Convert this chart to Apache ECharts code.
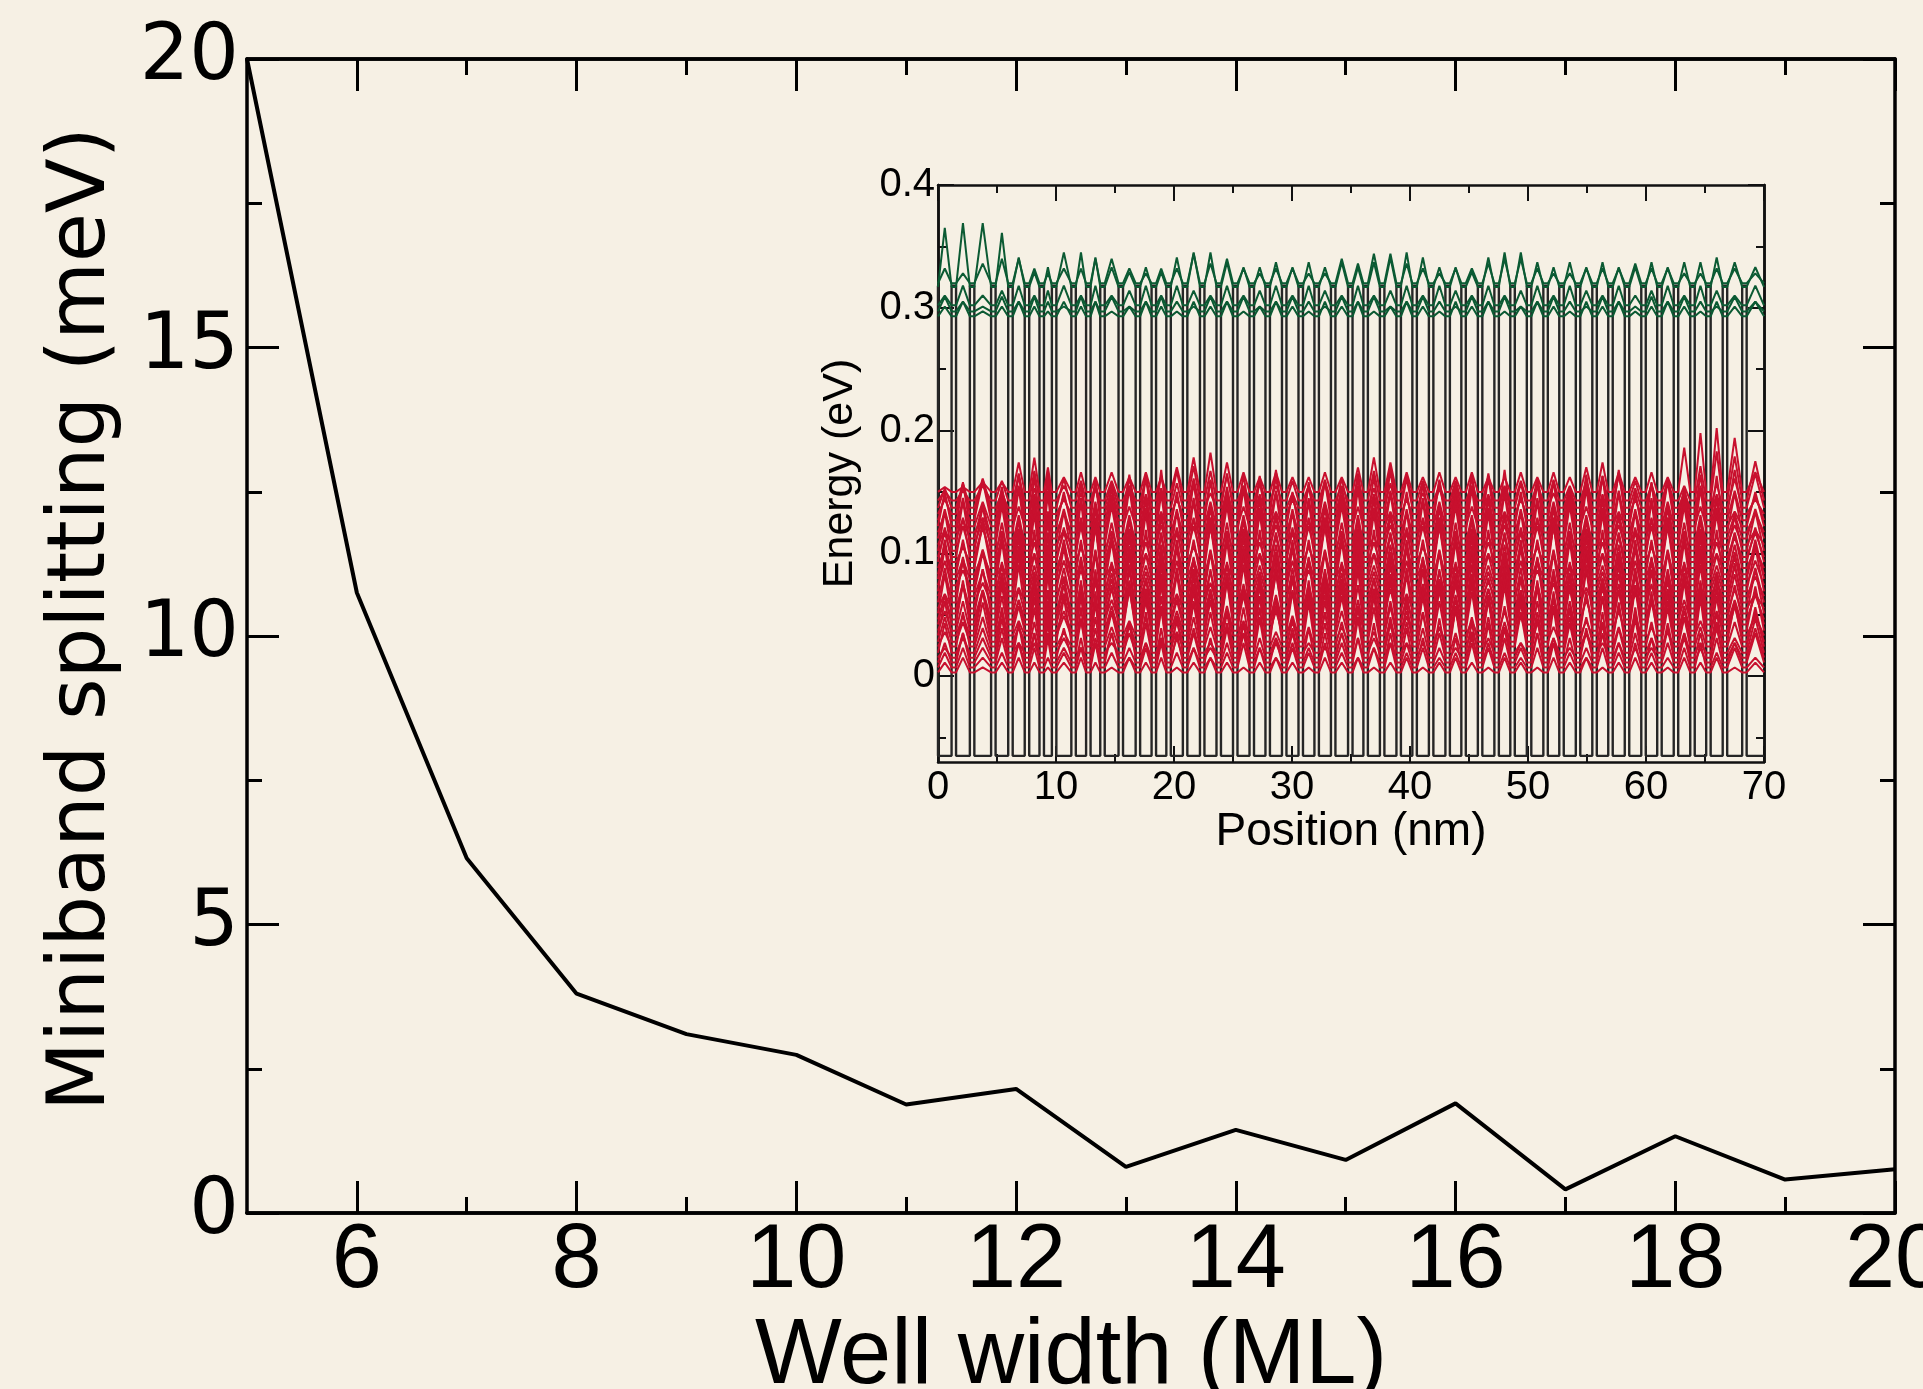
<!DOCTYPE html>
<html>
<head>
<meta charset="utf-8">
<title>Miniband splitting vs well width</title>
<script src="https://cdn.jsdelivr.net/npm/echarts@6/dist/echarts.min.js"></script>
<style>
  html, body { margin: 0; padding: 0; background: #f6f0e4; }
  #chart { width: 1923px; height: 1389px; }
</style>
</head>
<body>
<div id="chart"></div>
<script>
// ---- main curve ----
const wellWidths = [5, 6, 7, 8, 9, 10, 11, 12, 13, 14, 15, 16, 17, 18, 19, 20];
const splitting = [20, 10.75, 6.15, 3.8, 3.1, 2.74, 1.88, 2.15, 0.8, 1.44, 0.92, 1.9, 0.41, 1.33, 0.58, 0.76];
const widthMajor = [6, 8, 10, 12, 14, 16, 18, 20];
const widthMinor = [7, 9, 11, 13, 15, 17, 19];

// ---- inset: superlattice potential and states ----
const positionMax = 70;
const barrierLeft = [1.15, 2.70, 4.50, 5.95, 7.35, 8.60, 9.65, 11.30, 12.55, 13.75,
    15.30, 16.75, 18.10, 19.35, 20.75, 22.20, 23.60, 25.00, 26.40, 27.75,
    29.15, 30.55, 31.90, 33.30, 34.75, 36.05, 37.45, 38.85, 40.20, 41.60,
    43.00, 44.35, 45.75, 47.15, 48.50, 49.90, 51.30, 52.65, 54.05, 55.45,
    56.80, 58.20, 59.60, 60.95, 62.35, 63.75, 65.10, 66.50, 68.15];
const barrierWidth = 0.38;
const wellBottom = -0.065;
const barrierTop = 0.318;

// bump height in each well, one hex digit per well, in units of bumpUnit (eV)
const bumpUnit = 0.004;
const redLevels = [0.003, 0.007, 0.011, 0.015, 0.019, 0.024, 0.028, 0.033, 0.037, 0.042,
    0.046, 0.051, 0.055, 0.060, 0.065, 0.069, 0.074, 0.079, 0.083, 0.088,
    0.093, 0.097, 0.102, 0.107, 0.112, 0.117, 0.122, 0.127, 0.132, 0.137,
    0.143, 0.150];
const redBumps = [
    '2312321232 1323123212 3213231231 2321321323 1232132312',
    '3423542345 3245342354 2435324534 2354324532 4353245342',
    '4635465354 6345635463 5436453645 3564536453 6435463546',
    '2546735624 5736452674 3562547363 5247635426 7352645736',
    '6357246375 2463752647 3526473625 7463527364 2573642537',
    '3768457386 4578364758 3647583657 4836475863 7485364758',
    '5486375948 6357486375 9486357486 3759486375 4863759486',
    '7495386497 5386479538 6497538649 7538647953 8649753864',
    '4687596478 5967486597 4869758647 9586479568 7496857469',
    '6978587695 8769587968 5796857968 7596879586 9785697857',
    '5769486759 4867594867 5948675946 7594867594 8675948675',
    '8697589768 5976895768 9758697589 7685976859 7689576859',
    '3586947358 6947358694 7358694735 8694735869 4735869473',
    '7946358794 6358794635 8794635879 4635879463 5879463587',
    '4857936485 7936485793 6485793648 5793648579 3648579364',
    '9685748968 5748968574 8968574896 8574896857 4896857489',
    '5379846537 9846537984 6537984653 7984653798 4653798465',
    '8463957846 3957846395 7846395784 6395784639 5784639578',
    '6748593674 8593674859 3674859367 4859367485 9367485936',
    '4596837459 6837459683 7459683745 9683745968 3745968374',
    '7385946738 5946738594 6738594673 8594673859 4673859467',
    '5867394586 7394586739 4586739458 6739458673 9458673945',
    '8594637859 4637859463 7859463785 9463785946 3785946378',
    '3958674395 8674395867 4395867439 5867439586 7439586743',
    '6479385647 9385647938 5647938564 7938564793 8564793856',
    '4736958473 6958473695 8473695847 3695847369 5847369584',
    '7958463795 8463795846 3795846379 5846379584 6379584637',
    '5384796538 4796538479 6538479653 8479653847 9653847965',
    '3675849367 5849367584 9367584936 7584936758 4936758493',
    '4563745634 5674563745 6345674563 4567456345 6745634567',
    '2234564343 4345676534 3434346754 3434343434 5543437a98',
    '1122675343 4343578643 4334357643 4343343435 643439cdb4'
];
const greenLevels = [0.293, 0.297, 0.302, 0.317, 0.320];
const greenBumps = [
    '2312321323 1232132312 3213231232 1323123213 2312321323',
    '3213232132 3123213231 2321323123 2132312321 3213232132',
    '2423423424 2342432423 4243242342 4324234243 2423424324',
    'cddb634776 4343677544 5454545676 4436775454 5445455654',
    '3245532335 5323364532 3322546643 2334553223 3343322332'
];
const energyMajor = [0, 0.1, 0.2, 0.3, 0.4];
const energyMinor = [-0.05, 0.05, 0.15, 0.25, 0.35];

const wells = [];
let wellStart = 0;
barrierLeft.forEach(b => {
    wells.push([wellStart, b]);
    wellStart = b + barrierWidth;
});
wells.push([wellStart, positionMax]);

const potential = [[0, barrierTop], [0, wellBottom]];
barrierLeft.forEach(b => {
    potential.push([b, wellBottom], [b, barrierTop], [b + barrierWidth, barrierTop], [b + barrierWidth, wellBottom]);
});
potential.push([positionMax, wellBottom]);

function stateCurve(level, bumps) {
    const amp = bumps.replace(/ /g, '');
    const pts = [];
    wells.forEach((w, k) => {
        const a = parseInt(amp[k] || '0', 16) * bumpUnit;
        pts.push([w[0], level], [(w[0] + w[1]) / 2, level + a], [w[1], level]);
    });
    return pts;
}

const ink = '#000';
const bigSans = "'Liberation Sans', Arial, sans-serif";
const narrowSans = "'Liberation Sans Narrow', 'Liberation Sans', Arial, sans-serif";
const dejavu = "'DejaVu Sans', sans-serif";

function mainX(position, ticks, len, labels) {
    return {
        gridIndex: 0, type: 'value', min: 5, max: 20, position: position,
        axisLine: {show: true, onZero: false, lineStyle: {color: ink, width: 3.5}},
        axisTick: {show: true, inside: true, length: len, customValues: ticks, lineStyle: {color: ink, width: 3}},
        axisLabel: labels ? {show: true, customValues: ticks, margin: 4, fontFamily: narrowSans, fontSize: 90, color: ink}
                          : {show: false},
        splitLine: {show: false}
    };
}

function mainY(position, labels) {
    return {
        gridIndex: 0, type: 'value', min: 0, max: 20, interval: 5, position: position,
        axisLine: {show: true, onZero: false, lineStyle: {color: ink, width: 3.5}},
        axisTick: {show: true, inside: true, length: 32, lineStyle: {color: ink, width: 3}},
        minorTick: {show: true, splitNumber: 2, length: 15, lineStyle: {color: ink, width: 3}},
        axisLabel: labels ? {show: true, margin: 8, fontFamily: dejavu, fontSize: 78, color: ink} : {show: false},
        splitLine: {show: false}, minorSplitLine: {show: false}
    };
}

function insetX(position, labels) {
    return {
        gridIndex: 1, type: 'value', min: 0, max: positionMax, interval: 10, position: position,
        axisLine: {show: true, onZero: false, lineStyle: {color: '#111', width: 2.5}},
        axisTick: {show: true, inside: true, length: 16, lineStyle: {color: '#111', width: 2}},
        minorTick: {show: true, splitNumber: 2, length: 8, lineStyle: {color: '#111', width: 2}},
        axisLabel: labels ? {show: true, margin: 6, fontFamily: bigSans, fontSize: 40, color: ink} : {show: false},
        splitLine: {show: false}, minorSplitLine: {show: false}
    };
}

function insetY(position, ticks, len, labels) {
    return {
        gridIndex: 1, type: 'value', min: -0.07, max: 0.4, position: position,
        axisLine: {show: true, onZero: false, lineStyle: {color: '#111', width: 2.5}},
        axisTick: {show: true, inside: true, length: len, customValues: ticks, lineStyle: {color: '#111', width: 2}},
        axisLabel: labels ? {show: true, customValues: ticks, margin: 3, fontFamily: bigSans, fontSize: 40, color: ink,
                             formatter: v => String(v)} : {show: false},
        splitLine: {show: false}
    };
}

const xAxes = [
    Object.assign(mainX('bottom', widthMajor, 32, true), {
        name: 'Well width (ML)', nameLocation: 'middle', nameGap: 82,
        nameTextStyle: {fontFamily: bigSans, fontSize: 92, color: ink}
    }),
    mainX('bottom', widthMinor, 16, false),
    mainX('top', widthMajor, 32, false),
    mainX('top', widthMinor, 16, false),
    Object.assign(insetX('bottom', true), {
        name: 'Position (nm)', nameLocation: 'middle', nameGap: 46,
        nameTextStyle: {fontFamily: bigSans, fontSize: 46, color: ink}
    }),
    insetX('top', false)
];

const yAxes = [
    Object.assign(mainY('left', true), {
        name: 'Miniband splitting (meV)', nameLocation: 'middle', nameGap: 124,
        nameTextStyle: {fontFamily: dejavu, fontSize: 80, color: ink, padding: [0, 0, 0, 34]}
    }),
    mainY('right', false),
    Object.assign(insetY('left', energyMajor, 16, true), {
        name: 'Energy (eV)', nameLocation: 'middle', nameGap: 76,
        nameTextStyle: {fontFamily: bigSans, fontSize: 43, color: ink}
    }),
    insetY('left', energyMinor, 8, false),
    insetY('right', energyMajor, 16, false),
    insetY('right', energyMinor, 8, false)
];

const series = [{
    type: 'line', xAxisIndex: 0, yAxisIndex: 0,
    data: wellWidths.map((w, i) => [w, splitting[i]]),
    symbol: 'none', lineStyle: {color: ink, width: 4}
}, {
    type: 'line', xAxisIndex: 4, yAxisIndex: 2, data: potential,
    symbol: 'none', lineStyle: {color: '#262626', width: 2.4}
}];

redLevels.forEach((e, i) => {
    series.push({
        type: 'line', xAxisIndex: 4, yAxisIndex: 2, data: stateCurve(e, redBumps[i]),
        symbol: 'none', lineStyle: {color: '#c8102e', width: 2}
    });
});
greenLevels.forEach((e, i) => {
    series.push({
        type: 'line', xAxisIndex: 4, yAxisIndex: 2, data: stateCurve(e, greenBumps[i]),
        symbol: 'none', lineStyle: {color: '#0b5a33', width: 2}
    });
});

const chart = echarts.init(document.getElementById('chart'));
chart.setOption({
    backgroundColor: '#f6f0e4',
    animation: false,
    grid: [
        {left: 247, top: 59, right: 28, bottom: 176, outerBoundsMode: 'none'},
        {left: 938, top: 185, right: 159, bottom: 627, outerBoundsMode: 'none'}
    ],
    xAxis: xAxes,
    yAxis: yAxes,
    series: series
});
</script>
</body>
</html>
